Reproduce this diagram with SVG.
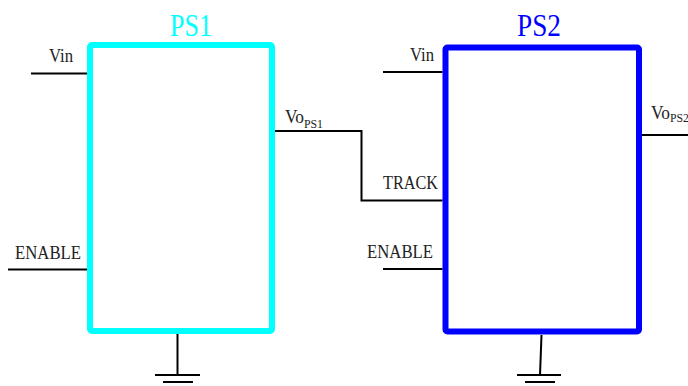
<svg xmlns="http://www.w3.org/2000/svg" width="688" height="386" viewBox="0 0 688 386">
<style>
.lbl{font-family:"Liberation Serif","Times New Roman",serif;font-size:19px;fill:#222}
.sub{font-family:"Liberation Serif","Times New Roman",serif;font-size:12.5px;fill:#222}
.ttl{font-family:"Liberation Serif","Times New Roman",serif;font-size:31px}
.w{fill:none;stroke:#000;stroke-width:2}
</style>
<rect width="688" height="386" fill="#fff"/>
<g id="PS1">
<rect x="90" y="45" width="182" height="286" rx="2" fill="#fff" stroke="#00ffff" stroke-width="6"/>
<text class="ttl" x="170" y="36" fill="#00ffff" textLength="42" lengthAdjust="spacingAndGlyphs">PS1</text>
<text class="lbl" x="49" y="62" textLength="24" lengthAdjust="spacingAndGlyphs">Vin</text>
<text class="lbl" x="15" y="259" textLength="66" lengthAdjust="spacingAndGlyphs">ENABLE</text>
<text class="lbl" x="285" y="123" textLength="19" lengthAdjust="spacingAndGlyphs">Vo</text>
<text class="sub" x="304" y="127.5" textLength="19" lengthAdjust="spacingAndGlyphs">PS1</text>
</g>
<g id="PS2">
<rect x="445.5" y="47.5" width="193.5" height="284" rx="2" fill="#fff" stroke="#0000ff" stroke-width="6"/>
<text class="ttl" x="517" y="35.5" fill="#0000ff" textLength="44" lengthAdjust="spacingAndGlyphs">PS2</text>
<text class="lbl" x="410" y="61" textLength="24" lengthAdjust="spacingAndGlyphs">Vin</text>
<text class="lbl" x="383" y="188.5" textLength="55" lengthAdjust="spacingAndGlyphs">TRACK</text>
<text class="lbl" x="367" y="257.5" textLength="66" lengthAdjust="spacingAndGlyphs">ENABLE</text>
<text class="lbl" x="651" y="118.5" textLength="19" lengthAdjust="spacingAndGlyphs">Vo</text>
<text class="sub" x="670" y="122" textLength="19" lengthAdjust="spacingAndGlyphs">PS2</text>
</g>
<g id="connectors">
<line class="w" x1="31" y1="73.5" x2="87" y2="73.5"/>
<line class="w" x1="8" y1="269.5" x2="87" y2="269.5"/>
<polyline class="w" points="275,131 361.5,131 361.5,200.5 442.5,200.5"/>
<line class="w" x1="383" y1="72" x2="442.5" y2="72"/>
<line class="w" x1="383" y1="269" x2="442.5" y2="269"/>
<line class="w" x1="642" y1="135" x2="688" y2="135"/>
<line class="w" x1="177.5" y1="334" x2="177.5" y2="375"/>
<line class="w" x1="155" y1="375" x2="200" y2="375"/>
<line class="w" x1="163" y1="382" x2="193" y2="382"/>
<line class="w" x1="541.5" y1="335" x2="540" y2="375"/>
<line class="w" x1="517" y1="375" x2="561" y2="375"/>
<line class="w" x1="525" y1="382" x2="555" y2="382"/>
</g>
</svg>
